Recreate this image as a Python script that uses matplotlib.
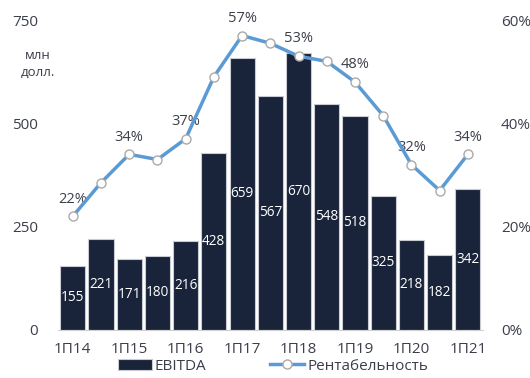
import numpy as np
import matplotlib.pyplot as plt

plt.rcParams['font.family'] = ['Open Sans', 'DejaVu Sans']

periods = ['1П14', '2П14', '1П15', '2П15', '1П16', '2П16', '1П17', '2П17',
           '1П18', '2П18', '1П19', '2П19', '1П20', '2П20', '1П21']
ebitda = [155, 221, 171, 180, 216, 428, 659, 567, 670, 548, 518, 325, 218, 182, 342]
margin = [22, 28.5, 34, 33, 37, 49, 57, 55.5, 53, 52, 48, 41.5, 32, 27, 34]
labelled = [0, 2, 4, 6, 8, 10, 12, 14]

bar_col = '#19233a'
line_col = '#5b9bd5'
txt_col = '#3b3f4a'

fig = plt.figure(figsize=(5.3, 3.78), dpi=100)
ax = fig.add_axes([0.109, 0.127, 0.802, 0.82])
x = np.arange(len(periods))

bars = ax.bar(x, ebitda, width=0.89, color=bar_col, edgecolor='#c8ccd2',
              linewidth=0.8, label='EBITDA', zorder=2)
for xi, v in zip(x, ebitda):
    ax.text(xi, v / 2, str(v), ha='center', va='center', color='white',
            fontsize=9.8, zorder=3)

ax.set_xlim(-0.53, len(periods) - 0.47)
ax.set_ylim(0, 750)
ax.set_yticks([0, 250, 500, 750])
ax.set_xticks(x[::2])
ax.set_xticklabels(periods[::2])
ax.tick_params(axis='both', length=0, labelsize=11, colors=txt_col)
ax.tick_params(axis='y', pad=14)
ax.tick_params(axis='x', pad=9)
for s in ['top', 'right', 'left']:
    ax.spines[s].set_visible(False)
ax.spines['bottom'].set_color('#d0d0d0')

ax2 = ax.twinx()
ax2.set_ylim(0, 60)
ax2.set_yticks([0, 20, 40, 60])
ax2.set_yticklabels(['0%', '20%', '40%', '60%'])
ax2.tick_params(axis='y', length=0, labelsize=11, colors=txt_col, pad=13)
for s in ax2.spines.values():
    s.set_visible(False)
line, = ax2.plot(x, margin, color=line_col, lw=2.5, marker='o', ms=6.5,
                 mfc='white', mec='#aaaaaa', mew=1, label='Рентабельность', zorder=4)
for i in labelled:
    ax2.annotate(f'{margin[i]:.0f}%', (x[i], margin[i]), xytext=(0, 7),
                 textcoords='offset points', ha='center', va='bottom',
                 fontsize=10.5, color=txt_col)

fig.text(0.072, 0.83, 'млн\nдолл.', ha='center', va='center', fontsize=9.5,
         color=txt_col, linespacing=1.4)

fig.legend(handles=[bars, line], loc='lower center', bbox_to_anchor=(0.515, -0.025),
           ncol=2, frameon=False, fontsize=11, labelcolor=txt_col,
           handlelength=2.2, handletextpad=0.2, columnspacing=4.2)

fig.savefig('out.png', dpi=100)
